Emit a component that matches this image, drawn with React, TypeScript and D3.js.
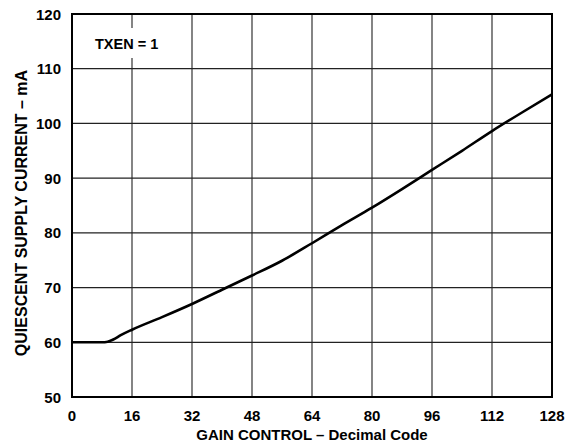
import { line, scaleLinear, curveMonotoneX } from "d3";

const codes = [0, 4, 8, 9.5, 11, 13, 16, 24, 32, 40, 48, 56, 64, 72, 80, 88, 96, 104, 112, 120, 128];
const current = [60, 60, 60, 60.1, 60.5, 61.3, 62.3, 64.6, 67.0, 69.6, 72.2, 74.9, 78.1, 81.4, 84.6, 88, 91.5, 95, 98.6, 102, 105.3];
const xTicks = [0, 16, 32, 48, 64, 80, 96, 112, 128];
const yTicks = [50, 60, 70, 80, 90, 100, 110, 120];

export default function App() {
  const width = 578;
  const height = 443;
  const left = 72;
  const right = 552;
  const top = 14;
  const bottom = 397;
  const font = "'Liberation Sans', Arial, Helvetica, sans-serif";

  const x = scaleLinear().domain([0, 128]).range([left, right]);
  const y = scaleLinear().domain([50, 120]).range([bottom, top]);

  const path = line<number>()
    .x((_, i) => x(codes[i]))
    .y((d) => y(d))
    .curve(curveMonotoneX)(current);

  return (
    <svg
      width={width}
      height={height}
      style={{ position: "absolute", left: 0, top: 0, background: "#fff" }}
    >
      {xTicks.slice(1, -1).map((t) => (
        <line key={`gx${t}`} x1={x(t)} x2={x(t)} y1={top} y2={bottom} stroke="#333" strokeWidth={1.2} />
      ))}
      {yTicks.slice(1, -1).map((t) => (
        <line key={`gy${t}`} x1={left} x2={right} y1={y(t)} y2={y(t)} stroke="#222" strokeWidth={1.2} />
      ))}

      <rect x={88} y={28} width={80} height={30} fill="#fff" />
      <text x={95} y={48.5} fontFamily={font} fontWeight="bold" fontSize={14.5} fill="#000">
        TXEN = 1
      </text>

      {path ? (
        <path d={path} fill="none" stroke="#000" strokeWidth={2.6} strokeLinejoin="round" />
      ) : null}

      <rect x={left} y={top} width={right - left} height={bottom - top} fill="none" stroke="#000" strokeWidth={2} />

      {xTicks.map((t) => (
        <text
          key={`xl${t}`}
          x={x(t)}
          y={421}
          textAnchor="middle"
          fontFamily={font}
          fontWeight="bold"
          fontSize={15}
          fill="#000"
        >
          {t}
        </text>
      ))}
      {yTicks.map((t) => (
        <text
          key={`yl${t}`}
          x={61}
          y={y(t) + 5.5}
          textAnchor="end"
          fontFamily={font}
          fontWeight="bold"
          fontSize={15}
          fill="#000"
        >
          {t}
        </text>
      ))}

      <text x={312} y={440} textAnchor="middle" fontFamily={font} fontWeight="bold" fontSize={15} fill="#000">
        GAIN CONTROL – Decimal Code
      </text>
      <text
        transform="translate(27,213) rotate(-90)"
        textAnchor="middle"
        fontFamily={font}
        fontWeight="bold"
        fontSize={16}
        fill="#000"
      >
        QUIESCENT SUPPLY CURRENT – mA
      </text>
    </svg>
  );
}
